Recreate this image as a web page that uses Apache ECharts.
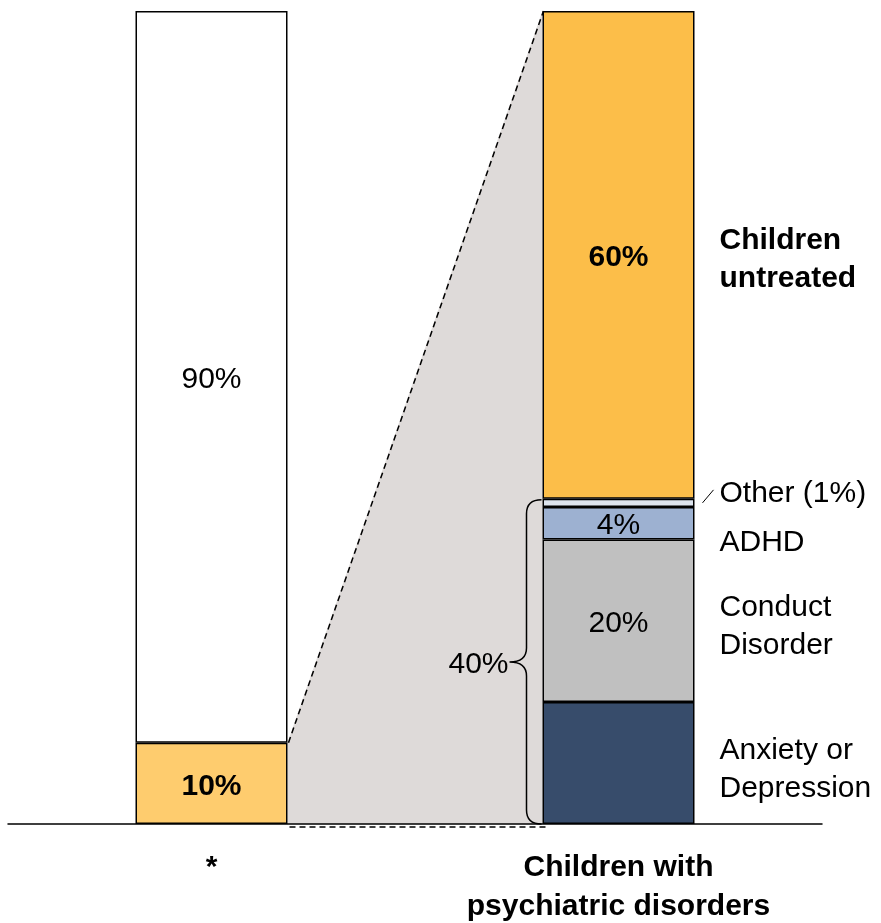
<!DOCTYPE html>
<html>
<head>
<meta charset="utf-8">
<script src="https://cdn.jsdelivr.net/npm/echarts@6/dist/echarts.min.js"></script>
<style>
  html, body { margin: 0; padding: 0; background: #fff; }
  #chart { width: 881px; height: 923px; }
</style>
</head>
<body>
<div id="chart"></div>
<script>
// Category labels under the two bars
const categories = ['*', 'Children with\npsychiatric disorders'];

// Left bar: share of all children (bottom to top)
const leftValues = [10, 90];

// Right bar: breakdown of children with disorders (bottom to top)
const rightNames = ['Anxiety or\nDepression', 'Conduct\nDisorder', 'ADHD', 'Other (1%)', 'Children\nuntreated'];
const rightValues = [15, 20, 4, 1, 60];

// Share of children receiving treatment (bracketed segments)
const treatedShare = 40;

const FONT = "'Liberation Sans', Arial, sans-serif";
const FONT_SIZE = 30;
const BAR_W = 152;

const leftColors = ['#FECC6E', '#FFFFFF'];
const rightColors = ['#374C6B', '#C0C0C0', '#9DB1D1', '#DDE4EE', '#FCBE49'];
// Which inside value labels are shown, and bold
const leftLabel = [{ show: true, bold: true }, { show: true, bold: false }];
const rightLabel = [
  { show: false }, { show: true, bold: false }, { show: true, bold: false },
  { show: false }, { show: true, bold: true }
];
// Vertical nudges for the side names so small segments stay readable
const nameNudge = [7, 6, 20, -9, 5];

function insideLabel(cfg) {
  return {
    show: !!cfg.show,
    position: 'inside',
    offset: [0, 3],
    formatter: '{c}%',
    fontFamily: FONT,
    fontSize: FONT_SIZE,
    fontWeight: cfg.bold ? 'bold' : 'normal',
    color: '#000'
  };
}

const barSeries = rightValues.map(function (rv, i) {
  const data = [];
  if (i < leftValues.length) {
    data.push({
      value: leftValues[i],
      itemStyle: { color: leftColors[i] },
      label: insideLabel(leftLabel[i])
    });
  } else {
    data.push('-');
  }
  data.push({
    value: rv,
    itemStyle: { color: rightColors[i] },
    label: insideLabel(rightLabel[i])
  });
  return {
    type: 'bar',
    stack: 'total',
    barWidth: BAR_W,
    z: 3,
    itemStyle: { borderColor: '#000', borderWidth: 1.5 },
    data: data
  };
});

// Zoom wedge, bracket and side names, placed through the axes
const annotationSeries = {
  type: 'custom',
  z: 1,
  silent: true,
  data: [[0, 0]],
  renderItem: function (params, api) {
    const hw = BAR_W / 2;
    const leftTop = api.coord([0, leftValues[0]]);
    const base = api.coord([1, 0]);
    const rightTop = api.coord([1, 100]);
    const lx = leftTop[0] + hw;
    const rx = base[0] - hw;
    const rxr = base[0] + hw;
    const yb = base[1];
    const children = [];

    children.push({
      type: 'polygon',
      shape: { points: [[lx, leftTop[1]], [rx, rightTop[1]], [rx, yb], [lx, yb]] },
      style: { fill: '#DEDAD9', stroke: null }
    });
    children.push({
      type: 'line',
      shape: { x1: lx + 1, y1: leftTop[1], x2: rx + 1, y2: rightTop[1] },
      style: { stroke: '#000', lineWidth: 1.5, lineDash: [6, 4] }
    });
    children.push({
      type: 'line',
      shape: { x1: lx + 2, y1: yb + 3, x2: rx + 4, y2: yb + 3 },
      style: { stroke: '#000', lineWidth: 1.5, lineDash: [6, 4] }
    });

    // Curly bracket spanning the treated segments
    const yt = api.coord([1, treatedShare])[1] + 1;
    const ym = (yt + yb) / 2;
    const bx = rx - 16;
    const tip = rx - 33;
    const r = 14;
    const path =
      'M' + (rx - 1) + ' ' + yt +
      ' Q' + bx + ' ' + yt + ' ' + bx + ' ' + (yt + r) +
      ' L' + bx + ' ' + (ym - r) +
      ' Q' + bx + ' ' + ym + ' ' + tip + ' ' + ym +
      ' Q' + bx + ' ' + ym + ' ' + bx + ' ' + (ym + r) +
      ' L' + bx + ' ' + (yb - r) +
      ' Q' + bx + ' ' + yb + ' ' + (rx - 1) + ' ' + yb;
    children.push({
      type: 'path',
      shape: { pathData: path },
      style: { fill: null, stroke: '#000', lineWidth: 1.5 }
    });
    children.push({
      type: 'text',
      style: {
        x: tip - 1, y: ym + 3, text: treatedShare + '%',
        align: 'right', verticalAlign: 'middle',
        font: 'normal ' + FONT_SIZE + 'px ' + FONT, fill: '#000'
      }
    });

    // Names beside the right bar
    let cum = 0;
    rightValues.forEach(function (v, i) {
      const mid = api.coord([1, cum + v / 2])[1];
      cum += v;
      const bold = i === rightValues.length - 1;
      children.push({
        type: 'text',
        style: {
          x: rxr + 25, y: mid + nameNudge[i], text: rightNames[i],
          align: 'left', verticalAlign: 'middle', lineHeight: 38,
          font: (bold ? 'bold ' : 'normal ') + FONT_SIZE + 'px ' + FONT, fill: '#000'
        }
      });
      if (nameNudge[i] < 0) {
        children.push({
          type: 'line',
          shape: { x1: rxr + 8, y1: mid, x2: rxr + 19, y2: mid - 13 },
          style: { stroke: '#000', lineWidth: 1 }
        });
      }
    });

    return { type: 'group', children: children };
  }
};

const chart = echarts.init(document.getElementById('chart'), null, { renderer: 'canvas' });
chart.setOption({
  animation: false,
  backgroundColor: '#fff',
  grid: { left: 8, right: 59, top: 11, bottom: 99, containLabel: false, outerBoundsMode: 'none' },
  xAxis: {
    type: 'category',
    data: categories,
    z: 5,
    axisLine: { lineStyle: { color: '#000', width: 1.5 } },
    axisTick: { show: false },
    axisLabel: {
      margin: 24,
      fontFamily: FONT,
      fontSize: FONT_SIZE,
      fontWeight: 'bold',
      lineHeight: 39,
      color: '#000'
    }
  },
  yAxis: {
    type: 'value',
    min: 0,
    max: 100,
    show: false
  },
  series: [annotationSeries].concat(barSeries)
});
</script>
</body>
</html>
